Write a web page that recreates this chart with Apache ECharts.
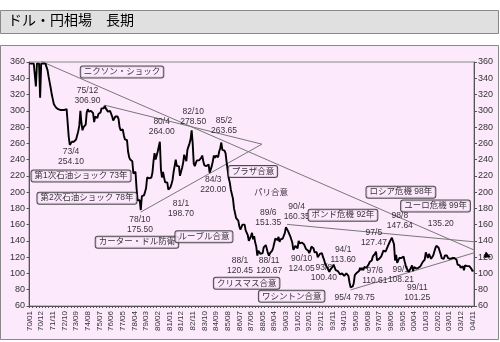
<!DOCTYPE html>
<html>
<head>
<meta charset="utf-8">
<script src="https://cdn.jsdelivr.net/npm/echarts@6/dist/echarts.min.js"></script>
<style>
html,body{margin:0;padding:0;background:#fff;}
#c{width:500px;height:342px;}
</style>
</head>
<body>
<div id="c"></div>
<script>
// ---- data ----
const titleText = 'ドル・円相場　長期';
const startYear = 1970, endYear = 2004;
const xTickLabelEvery = 11; // months between x labels
const yMin = 60, yMax = 360, yStep = 20;

// monthly USD/JPY
const rate70s = [
358,358,358,358,358,358,330,358,358,358,316,358,
358,358,358,358,358,350,342,335,328,320,314,308,
306,304,303,302,301,301,301,301,301,301,301,302,
302,268,258,256,262,263,262,264,265,266,275,282,
300,285,276,280,280,283,298,302,299,299,300,301,
297,286,293,293,291,296,297,298,303,302,303,306,
303,302,299,299,300,298,293,288,287,293,295,293,
290,280,276,277,277,270,265,267,264,250,243,240,
241,238,223,222,225,205,190,188,190,178,195,195,
196,200,205,218,220,217,217,218,224,238,248,240
];
const rate80s = [
238,250,250,262,228,218,225,218,212,210,212,203,
202,206,210,215,225,225,240,232,230,232,220,220,
230,236,246,242,238,252,256,260,265,276,260,235,
232,236,239,237,239,240,242,245,238,233,235,232,
233,234,224,225,232,238,245,242,245,246,243,250,
254,261,252,252,251,248,237,237,217,212,203,202,
192,180,178,168,168,165,158,154,155,160,162,160,
153,153,147,140,140,146,150,142,146,138,133,122,
128,128,124,124,125,132,133,135,134,125,122,125,
127,128,132,133,143,144,141,145,139,142,143,143
];
const rate90s = [
145,150,157,159,152,153,146,145,138,129,129,134,
132,131,140,137,139,138,137,136,133,130,130,128,
125,128,133,133,131,126,127,126,120,121,124,124,
125,120,117,112,110,107,107,102,105,107,108,111,
111,104,102,103,104,99,100,100,99,97,99,100,
99,97,89,83,84,84,88,98,100,101,102,103,
107,104,107,104,108,109,107,108,111,114,113,116,
121,120,124,127,116,114,118,118,121,120,128,130,
127,126,133,132,139,139,144,142,136,116,123,113,
116,119,119,119,121,121,115,110,106,105,102,102
];
const rate00s = [
107,110,103,108,108,106,108,107,108,109,111,114,
116,117,126,124,119,124,125,118,119,122,123,131,
134,133,132,128,124,119,120,118,122,122,122,119,
120,118,118,119,119,119,120,117,111,109,110,107,
106,109,104,110,109,109,111,109,110,106,103,104
];

// trend lines: [monthIndex, yen]
const trendLines = [
  [[11.5, 360.5], [432.5, 121.5]],
  [[71, 306.9], [219.3, 259]],
  [[105, 175.5], [219.3, 259]],
  [[243, 160.35], [444, 136]],
  [[303, 79.75], [444, 135]]
];

// annotations: text, monthIndex, yen, boxed
const notes = [
  ['ニクソン・ショック', 87.3, 347.7, true],
  ['75/12\n306.90', 54.7, 318.8, false],
  ['73/4\n254.10', 39.2, 243.4, false],
  ['第1次石油ショック 73年', 48.6, 219.7, true],
  ['第2次石油ショック 78年', 54.2, 192.6, true],
  ['78/10\n175.50', 104.2, 159.8, false],
  ['カーター・ドル防衛', 101.4, 138.5, true],
  ['80/4\n264.00', 124.7, 280.9, false],
  ['82/10\n278.50', 154.5, 293.2, false],
  ['85/2\n263.65', 183.5, 281.2, false],
  ['プラザ合意', 210.8, 225.5, true],
  ['84/3\n220.00', 173.4, 209, false],
  ['パリ合意', 227.8, 199.1, false],
  ['81/1\n198.70', 142.9, 179.4, false],
  ['ルーブル合意', 164.6, 145.2, true],
  ['89/6\n151.35', 225.3, 168.9, false],
  ['90/4\n160.35', 252.1, 175.4, false],
  ['88/1\n120.45', 198.6, 109.8, false],
  ['88/11\n120.67', 226.2, 109.8, false],
  ['90/10\n124.05', 256.8, 112.6, false],
  ['クリスマス合意', 204.9, 88, true],
  ['ワシントン合意', 247.4, 72, true],
  ['ポンド危機 92年', 295.8, 171.7, true],
  ['94/1\n113.60', 296, 122.8, false],
  ['93/8\n100.40', 277.8, 100.7, false],
  ['95/4 79.75', 306.8, 70.4, false],
  ['97/6\n110.61', 325.9, 97.8, false],
  ['97/5\n127.47', 325, 144.6, false],
  ['98/8\n147.64', 349.5, 164.9, false],
  ['99/1\n108.21', 350.5, 98.9, false],
  ['99/11\n101.25', 366, 76.9, false],
  ['135.20', 388.2, 161.8, false],
  ['ロシア危機 98年', 350.5, 200, true],
  ['ユーロ危機 99年', 383.2, 182.8, true]
];

// ---- build ----
const months = [];
for (let y = startYear; y <= endYear; y++) {
  for (let m = 1; m <= 12; m++) {
    months.push(String(y % 100).padStart(2, '0') + '/' + String(m).padStart(2, '0'));
  }
}
const rates = [].concat(rate70s, rate80s, rate90s, rate00s);
const N = months.length;

const FONT = "'Liberation Sans', 'Noto Sans CJK JP', sans-serif";
const PINK = '#fde9fc';

const chart = echarts.init(document.getElementById('c'), null, {renderer: 'canvas'});

const series = [{
  type: 'line',
  xAxisIndex: 0, yAxisIndex: 0,
  data: rates,
  symbol: 'none',
  lineStyle: {color: '#000', width: 1.9},
  z: 4,
  animation: false
}];
trendLines.forEach(function (seg, k) {
  const data = seg.map(function (p, j) {
    if (k === 0 && j === 1) {
      return {value: p, symbol: 'triangle', symbolSize: 7, symbolRotate: -113,
              itemStyle: {color: '#000'}};
    }
    return {value: p, symbol: 'none'};
  });
  series.push({
    type: 'line', xAxisIndex: 1, yAxisIndex: 0,
    data: data, clip: false, showSymbol: true,
    lineStyle: {color: '#777', width: 1},
    z: 3, animation: false, silent: true
  });
});
series.push({
  type: 'scatter', xAxisIndex: 1, yAxisIndex: 0,
  symbolSize: 1, itemStyle: {color: 'rgba(0,0,0,0)'},
  clip: false, silent: true, z: 6, animation: false,
  data: notes.map(function (n) {
    const boxed = n[3];
    return {
      value: [n[1], n[2]],
      label: boxed ? {
        formatter: n[0], fontSize: 8.5, backgroundColor: PINK,
        borderColor: '#222', borderWidth: 1, borderRadius: 2, padding: [1, 3, 0, 3]
      } : {formatter: n[0]}
    };
  }),
  label: {
    show: true, position: 'inside', color: '#000', fontSize: 8.5,
    lineHeight: 10, fontFamily: FONT
  }
});

chart.setOption({
  backgroundColor: '#fff',
  animation: false,
  graphic: [
    {type: 'rect', z: -10, shape: {x: 0.5, y: 10.5, width: 498, height: 23},
     style: {fill: '#e0e0e0', stroke: '#888', lineWidth: 1}},
    {type: 'text', z: -9, left: 8, top: 13,
     style: {text: titleText, font: "14px 'Noto Sans CJK JP'", fill: '#000'}},
    {type: 'rect', z: -10, shape: {x: 0.5, y: 45.5, width: 498, height: 294},
     style: {fill: PINK, stroke: '#888', lineWidth: 1}}
  ],
  grid: {left: 29, right: 26, top: 62, bottom: 36, show: true,
         borderColor: '#888', borderWidth: 1, backgroundColor: 'transparent'},
  xAxis: [{
    type: 'category', data: months, boundaryGap: true,
    axisLine: {lineStyle: {color: '#555'}},
    axisTick: {show: true, alignWithLabel: true, interval: 2, length: 2, lineStyle: {color: '#555'}},
    axisLabel: {interval: xTickLabelEvery - 1, rotate: 90, fontSize: 8, color: '#333',
                fontFamily: FONT, margin: 5}
  }, {
    type: 'value', min: -0.5, max: N - 0.5, show: false
  }],
  yAxis: [0, 1].map(function (i) {
    return {
      type: 'value', min: yMin, max: yMax, interval: yStep,
      position: i === 0 ? 'left' : 'right',
      axisLine: {show: true, lineStyle: {color: '#555'}},
      axisTick: {show: true, length: 3, lineStyle: {color: '#555'}},
      splitLine: {show: false},
      axisLabel: {fontSize: 9, color: '#333', fontFamily: FONT, margin: 4}
    };
  }),
  series: series
});
</script>
</body>
</html>
